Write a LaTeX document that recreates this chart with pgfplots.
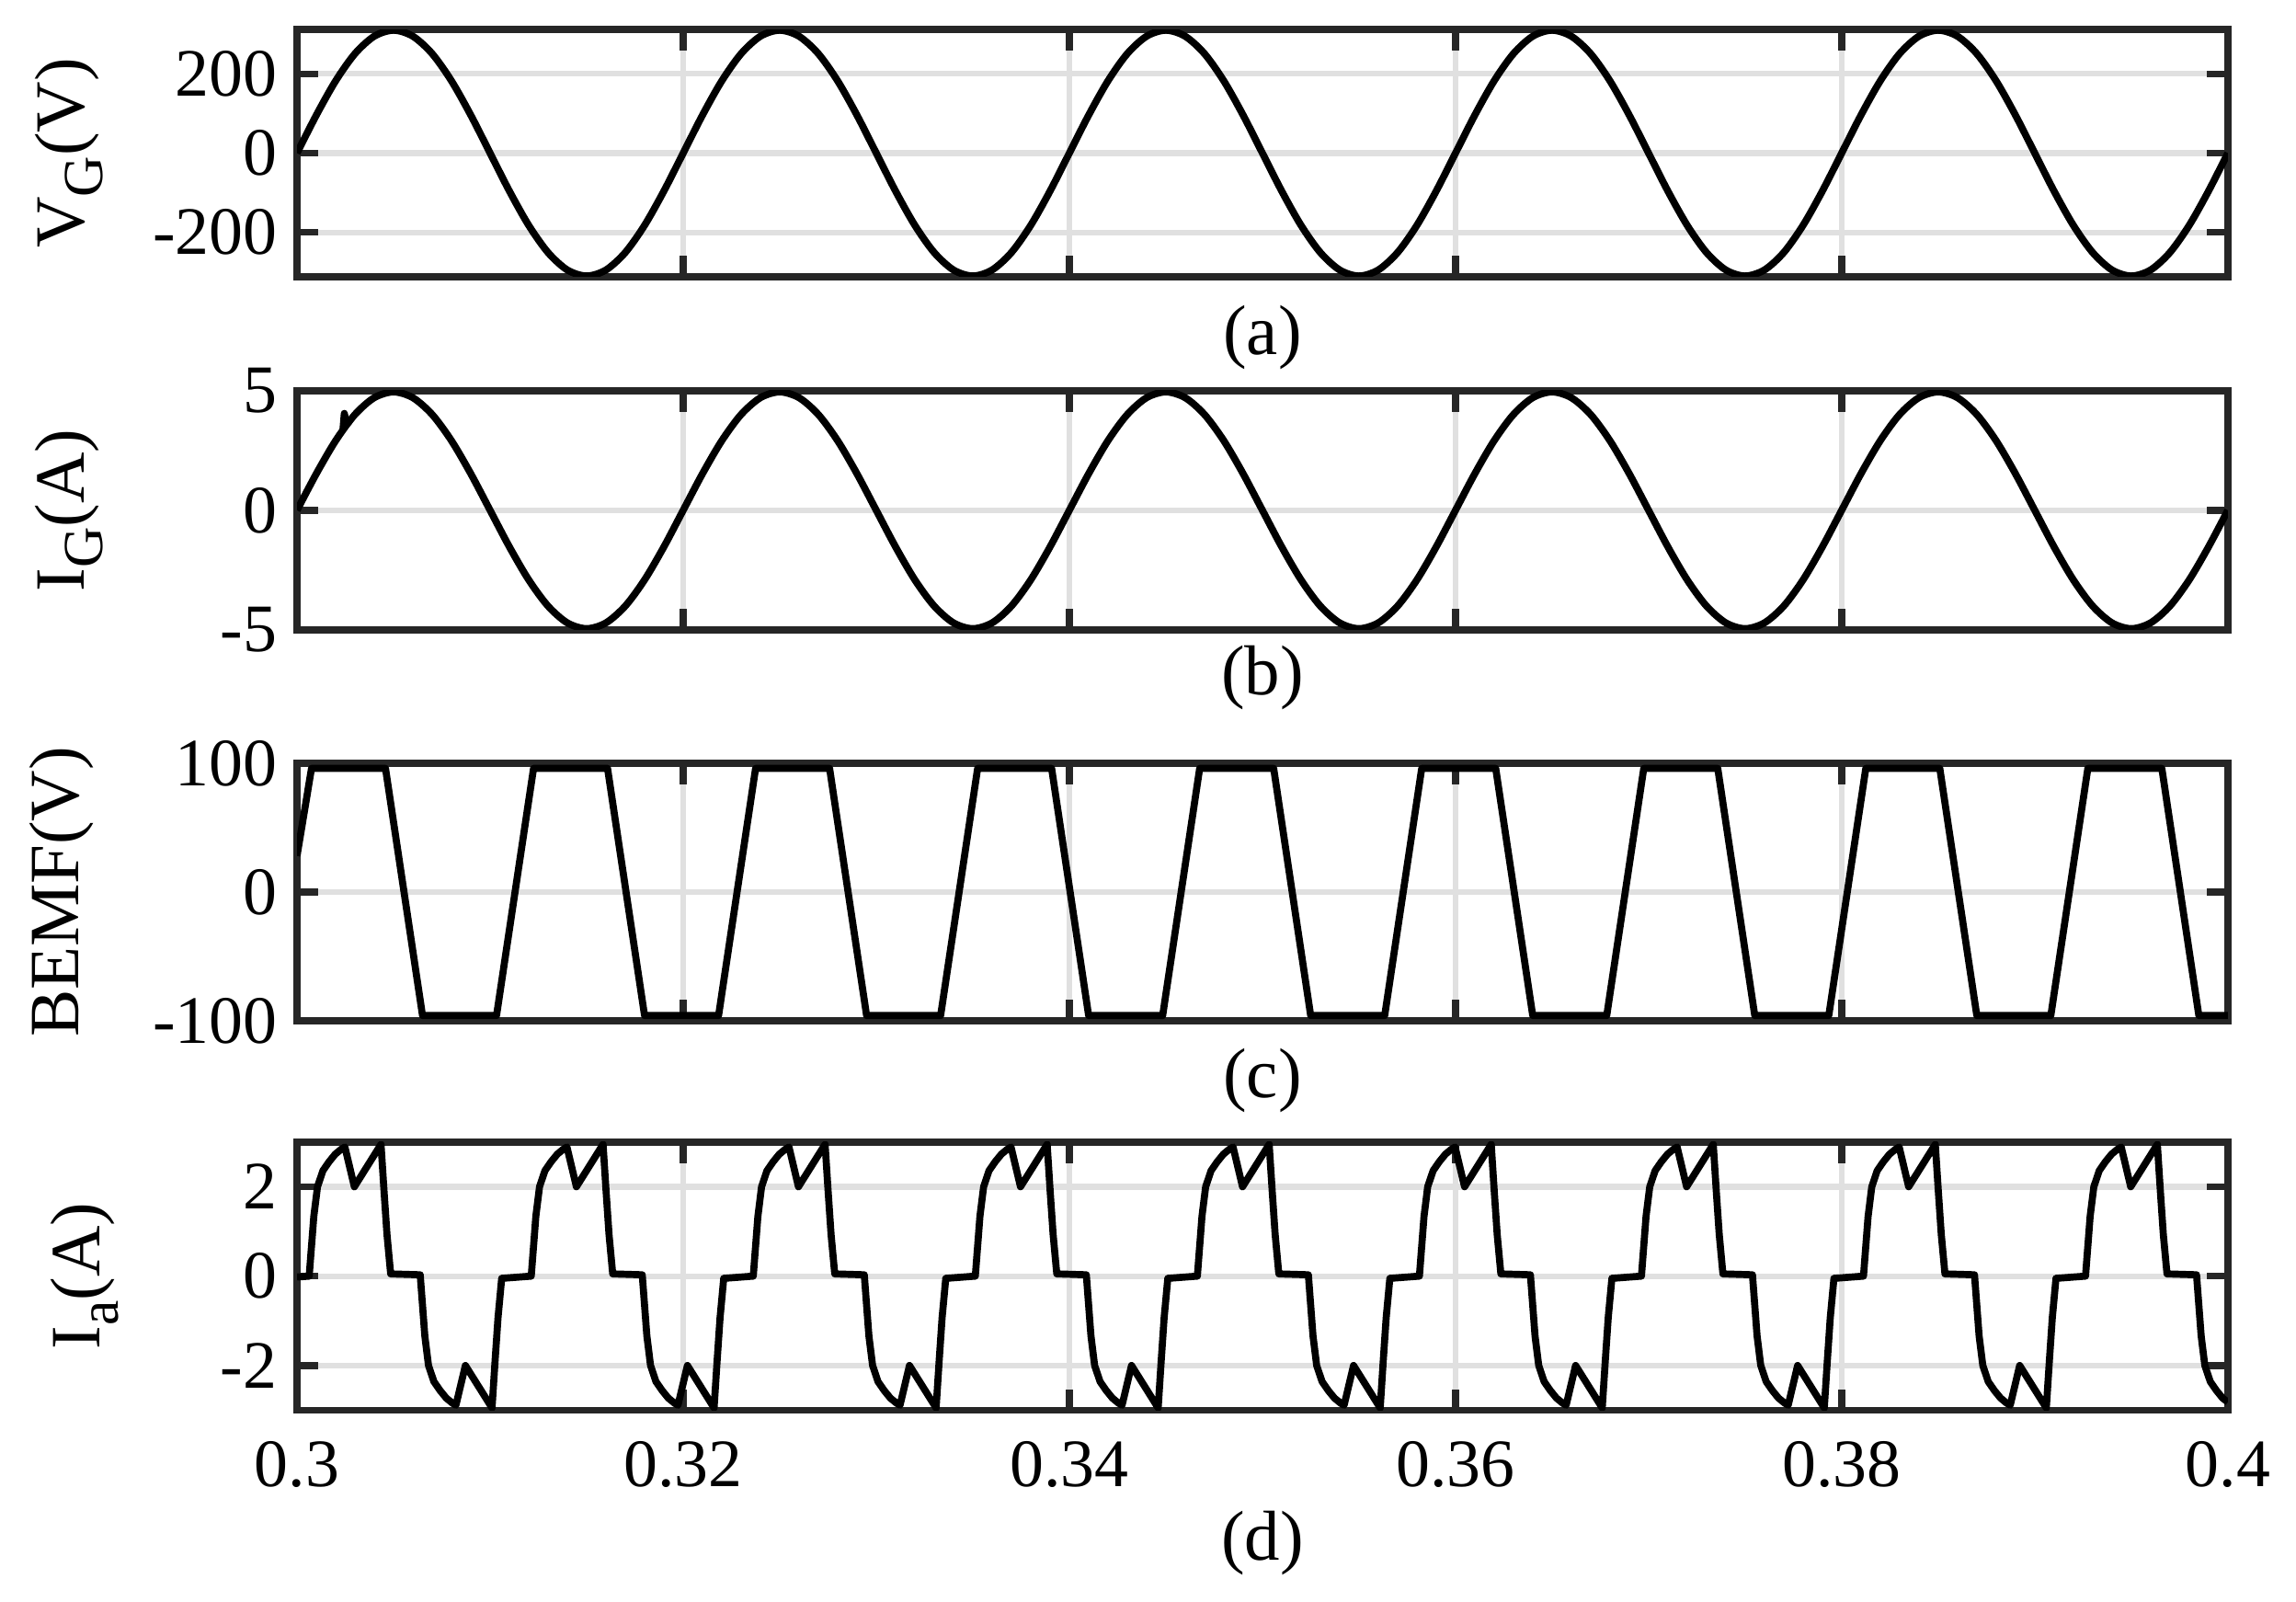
\documentclass[border=0pt]{standalone}
\usepackage{fontspec}
\setmainfont{Liberation Serif}
\usepackage{pgfplots}
\pgfplotsset{compat=1.18}
\definecolor{axgray}{RGB}{38,38,38}
\definecolor{gridgray}{RGB}{224,224,224}
\newcommand{\sub}[1]{\raisebox{-0.55ex}{\fontsize{10}{12}\selectfont #1}}

\pgfplotsset{
  panel/.style={
    scale only axis, width=12cm, anchor=south west,
    xmin=0.3, xmax=0.4,
    xtick={0.3,0.32,0.34,0.36,0.38,0.4},
    xticklabels={},
    grid=major,
    grid style={gridgray, line width=1pt},
    axis line style={axgray, line width=1.2pt},
    major tick length=0.13cm,
    tick style={axgray, line width=1.2pt},
    tick label style={font=\fontsize{12}{14}\selectfont},
    ylabel style={font=\fontsize{12.5}{15}\selectfont, anchor=center},
  },
  sig/.style={black, line width=1.25pt, line join=round},
}

\begin{document}
\begin{tikzpicture}
\useasboundingbox (0,0) rectangle (14.27,9.95);

% (a) grid voltage
\begin{axis}[panel, at={(1.846cm,8.230cm)}, height=1.537cm,
  ymin=-312, ymax=312, ytick={-200,0,200}, yticklabels={-200,0,200},
  ylabel={V\sub{G}(V)},
  ylabel style={at={(axis description cs:-0.118,0.5)}}]
\addplot[sig, smooth] coordinates {
 (0.300,0)(0.301,95.8)(0.302,182.2)(0.303,250.8)(0.304,294.8)(0.305,310)(0.306,294.8)(0.307,250.8)(0.308,182.2)(0.309,95.8)
 (0.310,0)(0.311,-95.8)(0.312,-182.2)(0.313,-250.8)(0.314,-294.8)(0.315,-310)(0.316,-294.8)(0.317,-250.8)(0.318,-182.2)(0.319,-95.8)
 (0.320,0)(0.321,95.8)(0.322,182.2)(0.323,250.8)(0.324,294.8)(0.325,310)(0.326,294.8)(0.327,250.8)(0.328,182.2)(0.329,95.8)
 (0.330,0)(0.331,-95.8)(0.332,-182.2)(0.333,-250.8)(0.334,-294.8)(0.335,-310)(0.336,-294.8)(0.337,-250.8)(0.338,-182.2)(0.339,-95.8)
 (0.340,0)(0.341,95.8)(0.342,182.2)(0.343,250.8)(0.344,294.8)(0.345,310)(0.346,294.8)(0.347,250.8)(0.348,182.2)(0.349,95.8)
 (0.350,0)(0.351,-95.8)(0.352,-182.2)(0.353,-250.8)(0.354,-294.8)(0.355,-310)(0.356,-294.8)(0.357,-250.8)(0.358,-182.2)(0.359,-95.8)
 (0.360,0)(0.361,95.8)(0.362,182.2)(0.363,250.8)(0.364,294.8)(0.365,310)(0.366,294.8)(0.367,250.8)(0.368,182.2)(0.369,95.8)
 (0.370,0)(0.371,-95.8)(0.372,-182.2)(0.373,-250.8)(0.374,-294.8)(0.375,-310)(0.376,-294.8)(0.377,-250.8)(0.378,-182.2)(0.379,-95.8)
 (0.380,0)(0.381,95.8)(0.382,182.2)(0.383,250.8)(0.384,294.8)(0.385,310)(0.386,294.8)(0.387,250.8)(0.388,182.2)(0.389,95.8)
 (0.390,0)(0.391,-95.8)(0.392,-182.2)(0.393,-250.8)(0.394,-294.8)(0.395,-310)(0.396,-294.8)(0.397,-250.8)(0.398,-182.2)(0.399,-95.8)
 (0.400,0)};
\end{axis}

% (b) grid current
\begin{axis}[panel, at={(1.846cm,6.036cm)}, height=1.486cm,
  ymin=-5, ymax=5, ytick={-5,0,5}, yticklabels={-5,0,5},
  ylabel={I\sub{G}(A)},
  ylabel style={at={(axis description cs:-0.118,0.5)}}]
\addplot[sig, smooth] coordinates {
 (0.300,0)(0.301,1.53)(0.302,2.91)(0.303,4.005)(0.304,4.708)(0.305,4.95)(0.306,4.708)(0.307,4.005)(0.308,2.91)(0.309,1.53)
 (0.310,0)(0.311,-1.53)(0.312,-2.91)(0.313,-4.005)(0.314,-4.708)(0.315,-4.95)(0.316,-4.708)(0.317,-4.005)(0.318,-2.91)(0.319,-1.53)
 (0.320,0)(0.321,1.53)(0.322,2.91)(0.323,4.005)(0.324,4.708)(0.325,4.95)(0.326,4.708)(0.327,4.005)(0.328,2.91)(0.329,1.53)
 (0.330,0)(0.331,-1.53)(0.332,-2.91)(0.333,-4.005)(0.334,-4.708)(0.335,-4.95)(0.336,-4.708)(0.337,-4.005)(0.338,-2.91)(0.339,-1.53)
 (0.340,0)(0.341,1.53)(0.342,2.91)(0.343,4.005)(0.344,4.708)(0.345,4.95)(0.346,4.708)(0.347,4.005)(0.348,2.91)(0.349,1.53)
 (0.350,0)(0.351,-1.53)(0.352,-2.91)(0.353,-4.005)(0.354,-4.708)(0.355,-4.95)(0.356,-4.708)(0.357,-4.005)(0.358,-2.91)(0.359,-1.53)
 (0.360,0)(0.361,1.53)(0.362,2.91)(0.363,4.005)(0.364,4.708)(0.365,4.95)(0.366,4.708)(0.367,4.005)(0.368,2.91)(0.369,1.53)
 (0.370,0)(0.371,-1.53)(0.372,-2.91)(0.373,-4.005)(0.374,-4.708)(0.375,-4.95)(0.376,-4.708)(0.377,-4.005)(0.378,-2.91)(0.379,-1.53)
 (0.380,0)(0.381,1.53)(0.382,2.91)(0.383,4.005)(0.384,4.708)(0.385,4.95)(0.386,4.708)(0.387,4.005)(0.388,2.91)(0.389,1.53)
 (0.390,0)(0.391,-1.53)(0.392,-2.91)(0.393,-4.005)(0.394,-4.708)(0.395,-4.95)(0.396,-4.708)(0.397,-4.005)(0.398,-2.91)(0.399,-1.53)
 (0.400,0)};
% small transient spike near the start
\addplot[sig] coordinates {(0.30238,3.37)(0.30245,4.05)(0.30257,3.60)(0.30272,3.72)};
\end{axis}

% (c) back EMF
\begin{axis}[panel, at={(1.846cm,3.607cm)}, height=1.600cm,
  ymin=-100, ymax=100, ytick={-100,0,100}, yticklabels={-100,0,100},
  ylabel={BEMF(V)},
  ylabel style={at={(axis description cs:-0.122,0.5)}}]
\addplot[sig] coordinates {
 (0.3,28)(0.30075,96)(0.304583,96)(0.3065,-96)(0.310333,-96)
 (0.31225,96)(0.316083,96)(0.318,-96)(0.321833,-96)
 (0.32375,96)(0.327583,96)(0.3295,-96)(0.333333,-96)
 (0.33525,96)(0.339083,96)(0.341,-96)(0.344833,-96)
 (0.34675,96)(0.350583,96)(0.3525,-96)(0.356333,-96)
 (0.35825,96)(0.362083,96)(0.364,-96)(0.367833,-96)
 (0.36975,96)(0.373583,96)(0.3755,-96)(0.379333,-96)
 (0.38125,96)(0.385083,96)(0.387,-96)(0.390833,-96)
 (0.39275,96)(0.396583,96)(0.3985,-96)(0.4,-96)};
\end{axis}

% (d) phase current
\begin{axis}[panel, at={(1.846cm,1.187cm)}, height=1.666cm,
  ymin=-3, ymax=3, ytick={-2,0,2}, yticklabels={-2,0,2},
  xticklabels={0.3,0.32,0.34,0.36,0.38,0.4},
  xticklabel style={yshift=-2pt},
  ylabel={I\sub{a}(A)},
  ylabel style={at={(axis description cs:-0.110,0.5)}}]
\addplot[sig] coordinates {
 (0.30000,-0.02)
 (0.30063,0)(0.30087,1.34)(0.30106,2.00)(0.30134,2.36)(0.30166,2.56)(0.30198,2.73)(0.30229,2.84)(0.30248,2.89)(0.30297,2.00)(0.30435,2.95)(0.30451,1.88)(0.30466,0.93)(0.30485,0.05)
 (0.30638,0.03)(0.30662,-1.34)(0.30681,-2.00)(0.30709,-2.36)(0.30741,-2.56)(0.30773,-2.73)(0.30804,-2.84)(0.30823,-2.89)(0.30872,-2.00)(0.31010,-2.95)(0.31026,-1.88)(0.31041,-0.93)(0.31060,-0.05)
 (0.31213,0)(0.31237,1.34)(0.31256,2.00)(0.31284,2.36)(0.31316,2.56)(0.31348,2.73)(0.31379,2.84)(0.31398,2.89)(0.31447,2.00)(0.31585,2.95)(0.31601,1.88)(0.31616,0.93)(0.31635,0.05)
 (0.31788,0.03)(0.31812,-1.34)(0.31831,-2.00)(0.31859,-2.36)(0.31891,-2.56)(0.31923,-2.73)(0.31954,-2.84)(0.31973,-2.89)(0.32022,-2.00)(0.32160,-2.95)(0.32176,-1.88)(0.32191,-0.93)(0.32210,-0.05)
 (0.32363,0)(0.32387,1.34)(0.32406,2.00)(0.32434,2.36)(0.32466,2.56)(0.32498,2.73)(0.32529,2.84)(0.32548,2.89)(0.32597,2.00)(0.32735,2.95)(0.32751,1.88)(0.32766,0.93)(0.32785,0.05)
 (0.32938,0.03)(0.32962,-1.34)(0.32981,-2.00)(0.33009,-2.36)(0.33041,-2.56)(0.33073,-2.73)(0.33104,-2.84)(0.33123,-2.89)(0.33172,-2.00)(0.33310,-2.95)(0.33326,-1.88)(0.33341,-0.93)(0.33360,-0.05)
 (0.33513,0)(0.33537,1.34)(0.33556,2.00)(0.33584,2.36)(0.33616,2.56)(0.33648,2.73)(0.33679,2.84)(0.33698,2.89)(0.33747,2.00)(0.33885,2.95)(0.33901,1.88)(0.33916,0.93)(0.33935,0.05)
 (0.34088,0.03)(0.34112,-1.34)(0.34131,-2.00)(0.34159,-2.36)(0.34191,-2.56)(0.34223,-2.73)(0.34254,-2.84)(0.34273,-2.89)(0.34322,-2.00)(0.34460,-2.95)(0.34476,-1.88)(0.34491,-0.93)(0.34510,-0.05)
 (0.34663,0)(0.34687,1.34)(0.34706,2.00)(0.34734,2.36)(0.34766,2.56)(0.34798,2.73)(0.34829,2.84)(0.34848,2.89)(0.34897,2.00)(0.35035,2.95)(0.35051,1.88)(0.35066,0.93)(0.35085,0.05)
 (0.35238,0.03)(0.35262,-1.34)(0.35281,-2.00)(0.35309,-2.36)(0.35341,-2.56)(0.35373,-2.73)(0.35404,-2.84)(0.35423,-2.89)(0.35472,-2.00)(0.35610,-2.95)(0.35626,-1.88)(0.35641,-0.93)(0.35660,-0.05)
 (0.35813,0)(0.35837,1.34)(0.35856,2.00)(0.35884,2.36)(0.35916,2.56)(0.35948,2.73)(0.35979,2.84)(0.35998,2.89)(0.36047,2.00)(0.36185,2.95)(0.36201,1.88)(0.36216,0.93)(0.36235,0.05)
 (0.36388,0.03)(0.36412,-1.34)(0.36431,-2.00)(0.36459,-2.36)(0.36491,-2.56)(0.36523,-2.73)(0.36554,-2.84)(0.36573,-2.89)(0.36622,-2.00)(0.36760,-2.95)(0.36776,-1.88)(0.36791,-0.93)(0.36810,-0.05)
 (0.36963,0)(0.36987,1.34)(0.37006,2.00)(0.37034,2.36)(0.37066,2.56)(0.37098,2.73)(0.37129,2.84)(0.37148,2.89)(0.37197,2.00)(0.37335,2.95)(0.37351,1.88)(0.37366,0.93)(0.37385,0.05)
 (0.37538,0.03)(0.37562,-1.34)(0.37581,-2.00)(0.37609,-2.36)(0.37641,-2.56)(0.37673,-2.73)(0.37704,-2.84)(0.37723,-2.89)(0.37772,-2.00)(0.37910,-2.95)(0.37926,-1.88)(0.37941,-0.93)(0.37960,-0.05)
 (0.38113,0)(0.38137,1.34)(0.38156,2.00)(0.38184,2.36)(0.38216,2.56)(0.38248,2.73)(0.38279,2.84)(0.38298,2.89)(0.38347,2.00)(0.38485,2.95)(0.38501,1.88)(0.38516,0.93)(0.38535,0.05)
 (0.38688,0.03)(0.38712,-1.34)(0.38731,-2.00)(0.38759,-2.36)(0.38791,-2.56)(0.38823,-2.73)(0.38854,-2.84)(0.38873,-2.89)(0.38922,-2.00)(0.39060,-2.95)(0.39076,-1.88)(0.39091,-0.93)(0.39110,-0.05)
 (0.39263,0)(0.39287,1.34)(0.39306,2.00)(0.39334,2.36)(0.39366,2.56)(0.39398,2.73)(0.39429,2.84)(0.39448,2.89)(0.39497,2.00)(0.39635,2.95)(0.39651,1.88)(0.39666,0.93)(0.39685,0.05)
 (0.39838,0.03)(0.39862,-1.34)(0.39881,-2.00)(0.39909,-2.36)(0.39941,-2.56)(0.39973,-2.73)(0.40000,-2.82)};
\end{axis}

\node[font=\fontsize{12.5}{15}\selectfont] at (7.846,7.855) {(a)};
\node[font=\fontsize{12.5}{15}\selectfont] at (7.846,5.736) {(b)};
\node[font=\fontsize{12.5}{15}\selectfont] at (7.846,3.233) {(c)};
\node[font=\fontsize{12.5}{15}\selectfont] at (7.846,0.361) {(d)};
\end{tikzpicture}
\end{document}
